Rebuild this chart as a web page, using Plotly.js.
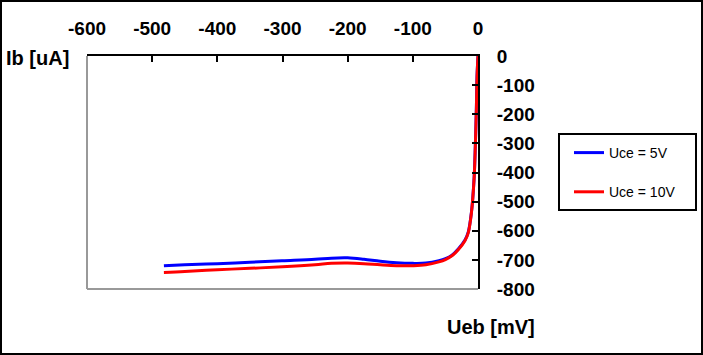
<!DOCTYPE html>
<html>
<head>
<meta charset="utf-8">
<script src="https://cdn.plot.ly/plotly-3.0.1.min.js"></script>
<style>
html,body{margin:0;padding:0;background:#fff;}
#chart{width:703px;height:355px;}
</style>
</head>
<body>
<div id="chart"></div>
<script>
// Data
const ueb = [-482, -450, -400, -350, -300, -250, -225, -200, -175, -150, -125, -100, -80, -60, -50, -40, -30, -20, -15, -10, -6, -4, -2.5, -1.5, -0.5, 0];
const ibUce5 = [-720, -717, -713, -708, -703, -698, -694, -693, -698, -705, -710, -712, -711, -703, -696, -684, -662, -632, -605, -535, -420, -300, -180, -70, -20, 0];
const ibUce10 = [-743, -740, -734, -729, -724, -717, -712, -711, -713, -717, -720, -720, -717, -707, -699, -686, -664, -634, -607, -537, -422, -302, -182, -72, -20, 0];
const seriesNames = ['Uce = 5V', 'Uce = 10V'];
const xTickVals = [-600, -500, -400, -300, -200, -100, 0];
const xTickText = ['-600', '-500', '-400', '-300', '-200', '-100', '0'];
const yTickVals = [0, -100, -200, -300, -400, -500, -600, -700, -800];
const yTickText = ['0', '-100', '-200', '-300', '-400', '-500', '-600', '-700', '-800'];
const xTitle = 'Ueb [mV]';
const yTitle = 'Ib [uA]';

const W = 703, H = 355;
const M = {l: 87, r: 225, t: 56, b: 66};
const pw = W - M.l - M.r, ph = H - M.t - M.b;
const px = v => (v - M.l) / pw;          // pixel x -> paper x
const py = v => (H - M.b - v) / ph;      // pixel y -> paper y

const tickFont = {family: 'Liberation Sans, Arial, sans-serif', size: 19, color: '#000', weight: 'bold'};
const titleFont = {family: 'Liberation Sans, Arial, sans-serif', size: 20, color: '#000', weight: 'bold'};

const traces = [
  {x: ueb, y: ibUce5, name: seriesNames[0], mode: 'lines', line: {color: '#0000ff', width: 3, shape: 'spline', smoothing: 1}, legendgroup: 'a'},
  {x: ueb, y: ibUce10, name: seriesNames[1], mode: 'lines', line: {color: '#ff0000', width: 3, shape: 'spline', smoothing: 1}, legendgroup: 'b'}
];

const layout = {
  width: W, height: H,
  margin: M,
  paper_bgcolor: '#fff', plot_bgcolor: '#fff',
  showlegend: true,
  legend: {
    x: px(569), y: py(137), xanchor: 'left', yanchor: 'top',
    bgcolor: 'rgba(0,0,0,0)', borderwidth: 0,
    font: {family: 'Liberation Sans, Arial, sans-serif', size: 14, color: '#000'},
    traceorder: 'grouped', tracegroupgap: 18, itemwidth: 30
  },
  xaxis: {
    side: 'top', range: [-600, 0], tickmode: 'array', tickvals: xTickVals, ticktext: xTickText,
    showgrid: false, zeroline: false,
    showline: true, linecolor: '#000', linewidth: 2,
    ticks: 'inside', ticklen: 6, tickwidth: 2, tickcolor: '#000',
    tickfont: tickFont, ticklabelstandoff: 11
  },
  yaxis: {
    side: 'right', range: [-800, 0], tickmode: 'array', tickvals: yTickVals, ticktext: yTickText,
    showgrid: false, zeroline: false,
    showline: true, linecolor: '#000', linewidth: 2,
    ticks: 'inside', ticklen: 6, tickwidth: 2, tickcolor: '#000',
    tickfont: tickFont, ticklabelstandoff: 13
  },
  shapes: [
    // gray left and bottom plot border
    {type: 'line', xref: 'paper', yref: 'paper', x0: 0, x1: 0, y0: 0, y1: 1, line: {color: '#999', width: 2}},
    {type: 'line', xref: 'paper', yref: 'paper', x0: 0, x1: 1, y0: 0, y1: 0, line: {color: '#999', width: 2}},
    // legend box
    {type: 'rect', xref: 'paper', yref: 'paper', x0: px(559), x1: px(696), y0: py(134), y1: py(210), line: {color: '#000', width: 2}},
    // outer frame
    {type: 'rect', xref: 'paper', yref: 'paper', x0: px(1), x1: px(702), y0: py(1), y1: py(354), line: {color: '#000', width: 2}}
  ],
  annotations: [
    {text: yTitle, xref: 'paper', yref: 'paper', x: px(4), y: py(58), xanchor: 'left', yanchor: 'middle', showarrow: false, font: titleFont},
    {text: xTitle, xref: 'paper', yref: 'paper', x: px(491), y: py(327), xanchor: 'center', yanchor: 'middle', showarrow: false, font: titleFont}
  ]
};

Plotly.newPlot('chart', traces, layout, {displayModeBar: false, staticPlot: true});
</script>
</body>
</html>
